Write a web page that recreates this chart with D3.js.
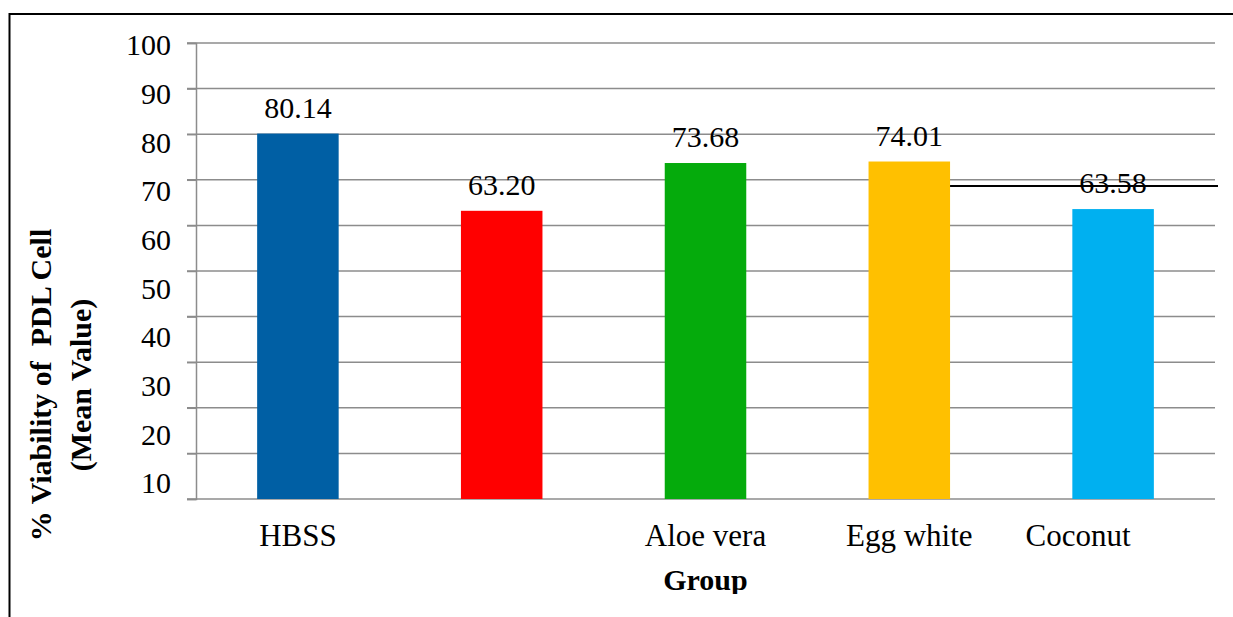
<!DOCTYPE html>
<html>
<head>
<meta charset="utf-8">
<script src="https://cdn.jsdelivr.net/npm/d3@7"></script>
<style>
  html, body { margin: 0; padding: 0; background: #fff; }
  svg { display: block; }
  svg text { font-family: "Liberation Serif"; }
</style>
</head>
<body>
<svg id="chart" width="1233" height="617"></svg>
<script>
// data
const groups = ['HBSS', '', 'Aloe vera', 'Egg white', 'Coconut'];
const viability = [80.14, 63.20, 73.68, 74.01, 63.58];
const barColors = ['#005fa4', '#ff0000', '#05ab0c', '#ffc000', '#00b0f0'];
const gridTicks = [0, 10, 20, 30, 40, 50, 60, 70, 80, 90, 100];
const tickLabels = [100, 90, 80, 70, 60, 50, 40, 30, 20, 10];

const FONT = '"Liberation Serif"';

const svg = d3.select('#chart');
const W = 1233, H = 617;
const plot = {left: 196, right: 1215, top: 43, bottom: 499};

// outer frame (top + left only)
svg.append('line')
  .attr('x1', 9).attr('x2', W).attr('y1', 14).attr('y2', 14)
  .attr('stroke', '#000').attr('stroke-width', 2);
svg.append('line')
  .attr('x1', 9.5).attr('x2', 9.5).attr('y1', 13).attr('y2', H)
  .attr('stroke', '#000').attr('stroke-width', 2);

const x = d3.scaleBand()
  .domain(d3.range(groups.length))
  .range([plot.left, plot.right])
  .paddingInner(0.6)
  .paddingOuter(0.3);

const y = d3.scaleLinear()
  .domain([0, 100])
  .range([plot.bottom, plot.top]);

// tick labels sit on their own (slightly stretched) spacing
const yLab = d3.scaleLinear()
  .domain([10, 100])
  .range([483, 45]);

// gridlines
svg.append('g')
  .selectAll('line')
  .data(gridTicks)
  .join('line')
  .attr('x1', plot.left - 9).attr('x2', plot.right)
  .attr('y1', d => y(d)).attr('y2', d => y(d))
  .attr('stroke', '#8c8c8c').attr('stroke-width', 1.5);

// value axis line
const yAxis = svg.append('g')
  .attr('transform', `translate(${plot.left},0)`)
  .call(d3.axisLeft(y).tickValues(gridTicks).tickSize(9).tickFormat(''));
yAxis.selectAll('line, path').attr('stroke', '#8c8c8c').attr('stroke-width', 1.5);

svg.append('g')
  .selectAll('text')
  .data(tickLabels)
  .join('text')
  .style('font-family', FONT)
  .style('font-size', '30px')
  .attr('x', 171)
  .attr('y', d => yLab(d))
  .attr('dy', '0.34em')
  .attr('text-anchor', 'end')
  .text(d => d);

// bars
svg.append('g')
  .selectAll('rect')
  .data(viability)
  .join('rect')
  .attr('x', (d, i) => x(i))
  .attr('y', d => y(d))
  .attr('width', x.bandwidth())
  .attr('height', d => y(0) - y(d))
  .attr('fill', (d, i) => barColors[i]);

// stray line over the last bars
svg.append('line')
  .attr('x1', x(3) + x.bandwidth()).attr('x2', 1218)
  .attr('y1', 186).attr('y2', 186)
  .attr('stroke', '#000').attr('stroke-width', 2);

// value labels
svg.append('g')
  .selectAll('text')
  .data(viability)
  .join('text')
  .style('font-family', FONT)
  .style('font-size', '30px')
  .attr('x', (d, i) => x(i) + x.bandwidth() / 2)
  .attr('y', d => y(d) - 16)
  .attr('text-anchor', 'middle')
  .text(d => d.toFixed(2));

// category labels
const labelShift = [0, 0, 0, 0, -35];
svg.append('g')
  .selectAll('text')
  .data(groups)
  .join('text')
  .style('font-family', FONT)
  .style('font-size', '31px')
  .attr('x', (d, i) => x(i) + x.bandwidth() / 2 + labelShift[i])
  .attr('y', 546)
  .attr('text-anchor', 'middle')
  .text(d => d);

// axis titles
svg.append('clipPath').attr('id', 'cut')
  .append('rect').attr('x', 0).attr('y', 0).attr('width', W).attr('height', 594);

svg.append('text')
  .style('font-family', FONT)
  .style('font-size', '30px')
  .style('font-weight', 'bold')
  .attr('x', x(2) + x.bandwidth() / 2)
  .attr('y', 590)
  .attr('text-anchor', 'middle')
  .attr('clip-path', 'url(#cut)')
  .text('Group');

const yTitle = svg.append('text')
  .style('font-family', FONT)
  .style('font-size', '30px')
  .style('font-weight', 'bold')
  .style('white-space', 'pre')
  .attr('transform', 'translate(51,385) rotate(-90)')
  .attr('text-anchor', 'middle');
yTitle.append('tspan').attr('x', 0).attr('y', 0).text('% Viability of  PDL Cell');
yTitle.append('tspan').attr('x', 0).attr('y', 40).text('(Mean Value)');
</script>
</body>
</html>
